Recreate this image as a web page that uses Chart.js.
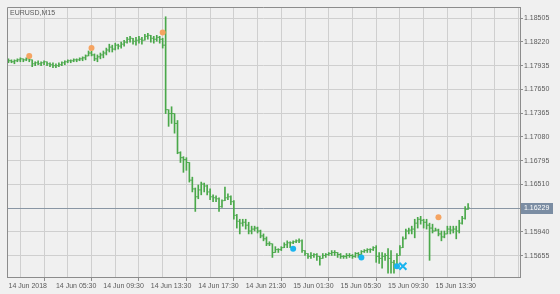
<!DOCTYPE html>
<html><head><meta charset="utf-8">
<script src="https://cdn.jsdelivr.net/npm/chart.js@4/dist/chart.umd.min.js"></script>
<style>html,body{margin:0;padding:0;background:#f0f0f0;}#wrap{width:560px;height:294px;}</style>
</head><body><div id="wrap"><canvas id="c" width="560" height="294"></canvas></div>
<script>
const symbolTitle = 'EURUSD,M15';
const timeLabels = ['14 Jun 2018','14 Jun 05:30','14 Jun 09:30','14 Jun 13:30','14 Jun 17:30','14 Jun 21:30','15 Jun 01:30','15 Jun 05:30','15 Jun 09:30','15 Jun 13:30'];
const barsPerLabel = 16;
const priceTicks = [1.15655,1.15940,1.16225,1.16510,1.16795,1.17080,1.17365,1.17650,1.17935,1.18220,1.18505];

const opens = [
1.17981,1.17993,1.17981,1.17993,1.18004,1.18016,1.18004,1.18016,1.18004,1.17957,
1.17969,1.17957,1.17969,1.17981,1.17957,1.17946,1.17934,1.17934,1.17946,1.17969,
1.17981,1.17993,1.17993,1.18004,1.18004,1.18016,1.18028,1.18051,1.18086,1.18063,
1.18016,1.18040,1.18063,1.18086,1.18122,1.18157,1.18133,1.18180,1.18169,1.18192,
1.18216,1.18251,1.18263,1.18227,1.18239,1.18251,1.18239,1.18286,1.18298,1.18263,
1.18251,1.18274,1.18251,1.18180,1.17406,1.17359,1.17359,1.17241,1.16889,1.16830,
1.16807,1.16772,1.16560,1.16455,1.16361,1.16443,1.16513,1.16490,1.16419,1.16361,
1.16349,1.16337,1.16243,1.16314,1.16349,1.16361,1.16302,1.16138,1.16067,1.16044,
1.16055,1.16020,1.15950,1.15973,1.15985,1.15950,1.15891,1.15856,1.15797,1.15797,
1.15692,1.15727,1.15727,1.15750,1.15785,1.15809,1.15809,1.15821,1.15832,1.15832,
1.15715,1.15680,1.15645,1.15656,1.15668,1.15645,1.15621,1.15656,1.15668,1.15680,
1.15692,1.15692,1.15668,1.15645,1.15645,1.15656,1.15656,1.15645,1.15680,1.15668,
1.15703,1.15715,1.15727,1.15727,1.15750,1.15645,1.15621,1.15645,1.15656,1.15621,
1.15574,1.15551,1.15656,1.15750,1.15856,1.15950,1.15961,1.15973,1.16044,1.16091,
1.16079,1.16055,1.16020,1.15985,1.15950,1.15961,1.15915,1.15879,1.15915,1.15973,
1.15961,1.15973,1.15950,1.16044,1.16102,1.16208];

const highs = [
1.18016,1.18004,1.18004,1.18016,1.18028,1.18016,1.18028,1.18028,1.18004,1.17981,
1.17993,1.17981,1.17993,1.17981,1.17969,1.17969,1.17957,1.17969,1.17981,1.17993,
1.18004,1.18004,1.18016,1.18016,1.18028,1.18040,1.18063,1.18110,1.18110,1.18075,
1.18063,1.18086,1.18110,1.18145,1.18192,1.18180,1.18204,1.18192,1.18216,1.18239,
1.18274,1.18286,1.18263,1.18274,1.18286,1.18274,1.18310,1.18321,1.18298,1.18286,
1.18298,1.18286,1.18263,1.18521,1.17406,1.17441,1.17359,1.17276,1.16901,1.16842,
1.16830,1.16772,1.16596,1.16466,1.16502,1.16537,1.16525,1.16502,1.16455,1.16384,
1.16372,1.16349,1.16325,1.16478,1.16396,1.16372,1.16314,1.16149,1.16091,1.16091,
1.16091,1.16055,1.16008,1.16008,1.15997,1.15961,1.15915,1.15879,1.15821,1.15797,
1.15762,1.15738,1.15762,1.15809,1.15832,1.15821,1.15832,1.15844,1.15856,1.15844,
1.15715,1.15680,1.15692,1.15680,1.15680,1.15645,1.15680,1.15680,1.15692,1.15715,
1.15715,1.15692,1.15680,1.15656,1.15680,1.15680,1.15668,1.15692,1.15692,1.15715,
1.15727,1.15738,1.15738,1.15762,1.15774,1.15692,1.15692,1.15680,1.15738,1.15715,
1.15598,1.15680,1.15774,1.15879,1.15973,1.15985,1.16008,1.16091,1.16114,1.16126,
1.16091,1.16091,1.16044,1.16032,1.15985,1.15973,1.15950,1.15950,1.16008,1.16008,
1.16008,1.16008,1.16079,1.16126,1.16243,1.16279];

const lows = [
1.17969,1.17969,1.17957,1.17981,1.17981,1.17981,1.17993,1.17981,1.17922,1.17934,
1.17946,1.17934,1.17946,1.17934,1.17922,1.17910,1.17910,1.17922,1.17934,1.17946,
1.17969,1.17969,1.17981,1.17981,1.17993,1.17993,1.18004,1.18051,1.18051,1.17993,
1.17981,1.18016,1.18028,1.18063,1.18098,1.18098,1.18122,1.18133,1.18145,1.18169,
1.18204,1.18216,1.18192,1.18180,1.18204,1.18192,1.18239,1.18251,1.18216,1.18204,
1.18227,1.18204,1.18145,1.17359,1.17206,1.17241,1.17124,1.16877,1.16772,1.16654,
1.16678,1.16537,1.16419,1.16185,1.16337,1.16384,1.16419,1.16384,1.16325,1.16302,
1.16302,1.16185,1.16232,1.16314,1.16325,1.16267,1.16091,1.15985,1.15915,1.16008,
1.15973,1.15915,1.15915,1.15950,1.15926,1.15868,1.15832,1.15774,1.15774,1.15633,
1.15692,1.15692,1.15715,1.15750,1.15750,1.15750,1.15797,1.15809,1.15809,1.15692,
1.15656,1.15621,1.15621,1.15633,1.15598,1.15539,1.15621,1.15633,1.15656,1.15656,
1.15656,1.15633,1.15621,1.15621,1.15621,1.15633,1.15621,1.15633,1.15633,1.15668,
1.15692,1.15692,1.15692,1.15715,1.15574,1.15562,1.15504,1.15598,1.15445,1.15445,
1.15445,1.15539,1.15656,1.15750,1.15856,1.15915,1.15915,1.15868,1.15985,1.16032,
1.15985,1.15973,1.15598,1.15926,1.15950,1.15891,1.15832,1.15868,1.15915,1.15915,
1.15926,1.15856,1.15926,1.16032,1.16091,1.16208];

const closes = [
1.17993,1.17981,1.17993,1.18004,1.18016,1.18004,1.18016,1.18004,1.17957,1.17969,
1.17957,1.17969,1.17981,1.17957,1.17946,1.17934,1.17934,1.17946,1.17969,1.17981,
1.17993,1.17993,1.18004,1.18004,1.18016,1.18028,1.18051,1.18086,1.18063,1.18016,
1.18040,1.18063,1.18086,1.18122,1.18157,1.18133,1.18180,1.18169,1.18192,1.18216,
1.18251,1.18263,1.18227,1.18239,1.18251,1.18239,1.18286,1.18298,1.18263,1.18251,
1.18274,1.18251,1.18180,1.17406,1.17359,1.17359,1.17241,1.16889,1.16830,1.16807,
1.16772,1.16560,1.16455,1.16361,1.16443,1.16513,1.16490,1.16419,1.16361,1.16349,
1.16337,1.16243,1.16314,1.16349,1.16361,1.16302,1.16138,1.16067,1.16044,1.16055,
1.16020,1.15950,1.15973,1.15985,1.15950,1.15891,1.15856,1.15797,1.15797,1.15692,
1.15727,1.15727,1.15750,1.15785,1.15809,1.15809,1.15821,1.15832,1.15832,1.15715,
1.15680,1.15645,1.15656,1.15668,1.15645,1.15621,1.15656,1.15668,1.15680,1.15692,
1.15692,1.15668,1.15645,1.15645,1.15656,1.15656,1.15645,1.15680,1.15668,1.15703,
1.15715,1.15727,1.15727,1.15750,1.15645,1.15621,1.15645,1.15656,1.15621,1.15574,
1.15551,1.15656,1.15750,1.15856,1.15950,1.15961,1.15973,1.16044,1.16091,1.16079,
1.16055,1.16020,1.15985,1.15950,1.15961,1.15915,1.15879,1.15915,1.15973,1.15961,
1.15973,1.15950,1.16044,1.16102,1.16208,1.16229];

const highSignalBars = [7, 28, 52, 145];
const highSignalPrices = [1.18051, 1.18145, 1.18333, 1.16114];
const lowSignalBars = [96, 119, 131];
const lowSignalPrices = [1.15738, 1.15633, 1.15527];
const crossSignalBars = [133];
const crossSignalPrices = [1.15527];

const GREEN = '#4aa84a';
const ORANGE = '#f5a462';
const CYAN = '#1ab4ef';
const GRID = '#cfcfcf';
const FRAME = '#8c8c8c';
const TEXT = '#5a5a5a';
const FONT = 'Liberation Sans, Arial, sans-serif';
const lastClose = closes[closes.length - 1];

const bgPlugin = {
  id: 'bg',
  beforeDraw(chart) {
    const c = chart.ctx;
    c.save(); c.fillStyle = '#f0f0f0'; c.fillRect(0, 0, chart.width, chart.height); c.restore();
  },
  beforeDatasetsDraw(chart) {
    const c = chart.ctx, a = chart.chartArea;
    const y = Math.round(chart.scales.y.getPixelForValue(lastClose)) + 0.5;
    c.save(); c.strokeStyle = '#8996a4'; c.lineWidth = 1;
    c.beginPath(); c.moveTo(a.left, y); c.lineTo(a.right, y); c.stroke(); c.restore();
  },
  afterDraw(chart) {
    const c = chart.ctx, a = chart.chartArea;
    c.save();
    c.strokeStyle = FRAME; c.lineWidth = 1;
    c.beginPath();
    c.moveTo(a.left + 0.5, a.bottom); c.lineTo(a.left + 0.5, a.top + 0.5); c.lineTo(a.right, a.top + 0.5);
    c.stroke();
    const y = Math.round(chart.scales.y.getPixelForValue(lastClose)) + 0.5;
    c.fillStyle = '#7b8da3';
    c.fillRect(a.right + 1, y - 5.5, 32, 11);
    c.fillStyle = '#ffffff';
    c.font = '7px ' + FONT;
    c.textBaseline = 'middle'; c.textAlign = 'left';
    c.fillText(lastClose.toFixed(5), a.right + 4, y);
    c.fillStyle = TEXT;
    c.fillText(symbolTitle, a.left + 3, a.top + 6);
    c.restore();
  }
};

const gridOpts = {
  color: GRID, lineWidth: 1, borderDash: [2, 2], drawTicks: true,
  tickBorderDash: [], tickWidth: 1
};

new Chart(document.getElementById('c'), {
  type: 'bar',
  data: {
    datasets: [
      { type: 'scatter', data: crossSignalBars.map((b, i) => ({x: b, y: crossSignalPrices[i]})),
        pointStyle: 'crossRot', pointRadius: 5, borderColor: CYAN, backgroundColor: CYAN, pointBorderWidth: 2 },
      { type: 'scatter', data: lowSignalBars.map((b, i) => ({x: b, y: lowSignalPrices[i]})),
        pointStyle: 'circle', pointRadius: 3, backgroundColor: CYAN, borderColor: CYAN, pointBorderWidth: 0 },
      { type: 'scatter', data: highSignalBars.map((b, i) => ({x: b, y: highSignalPrices[i]})),
        pointStyle: 'circle', pointRadius: 3, backgroundColor: ORANGE, borderColor: ORANGE, pointBorderWidth: 0 },
      { type: 'scatter', data: opens.map((v, i) => ({x: i - 1/3, y: v})),
        pointStyle: 'line', pointRadius: 0.5, borderColor: GREEN, pointBorderWidth: 1 },
      { type: 'scatter', data: closes.map((v, i) => ({x: i + 1/3, y: v})),
        pointStyle: 'line', pointRadius: 0.5, borderColor: GREEN, pointBorderWidth: 1 },
      { type: 'bar', data: highs.map((h, i) => ({x: i, y: [lows[i], h]})),
        backgroundColor: GREEN, borderWidth: 0, barThickness: 1, grouped: false }
    ]
  },
  options: {
    responsive: false, animation: false, devicePixelRatio: 1,
    layout: { padding: { left: 1, top: 1, right: 0, bottom: 0 } },
    plugins: { legend: { display: false }, tooltip: { enabled: false } },
    events: [],
    scales: {
      x: {
        type: 'linear', position: 'bottom', min: -0.5, max: 172.5, offset: false,
        afterBuildTicks: s => { const t = []; for (let v = 0; v <= 172; v += barsPerLabel / 2) t.push({value: v}); s.ticks = t; },
        afterFit: s => { s.height = 17; },
        grid: Object.assign({}, gridOpts, {
          color: ctx => (ctx.tick && ctx.tick.value === 0) ? 'rgba(0,0,0,0)' : GRID,
          tickLength: 4,
          tickColor: ctx => (ctx.tick && ctx.tick.value % barsPerLabel === 0) ? FRAME : 'rgba(0,0,0,0)'
        }),
        border: { display: true, color: FRAME, width: 1 },
        ticks: {
          autoSkip: false, maxRotation: 0, minRotation: 0, align: 'start', padding: 1,
          color: TEXT, font: { family: FONT, size: 7 },
          callback: v => (v % barsPerLabel === 0) ? (timeLabels[v / barsPerLabel] || '') : ''
        }
      },
      y: {
        type: 'linear', position: 'right', min: 1.15398, max: 1.18638,
        afterBuildTicks: s => { s.ticks = priceTicks.map(v => ({value: v})); },
        afterFit: s => { s.width = 40; },
        grid: Object.assign({}, gridOpts, { tickLength: 3, tickColor: FRAME }),
        border: { display: true, color: FRAME, width: 1 },
        ticks: {
          padding: 1, color: TEXT, font: { family: FONT, size: 7 },
          callback: v => Math.abs(v - lastClose) < 0.0002 ? '' : Number(v).toFixed(5)
        }
      }
    }
  },
  plugins: [bgPlugin]
});
</script></body></html>
